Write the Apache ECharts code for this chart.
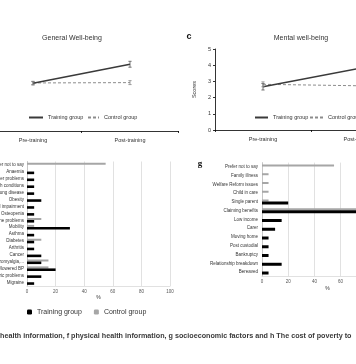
<!DOCTYPE html>
<html>
<head>
<meta charset="utf-8">
<script src="https://cdn.jsdelivr.net/npm/echarts@6/dist/echarts.min.js"></script>
<style>html,body{margin:0;padding:0;background:#fff;}#c{width:356px;height:364px;}</style>
</head>
<body>
<div id="c"></div>
<script>
// ---- data ----
const lineCats = ['Pre-training', 'Post-training'];
const scoreTicks = [0, 1, 2, 3, 4, 5];
// General well-being
const gwTraining = [2.91, 4.07];
const gwTrainingErr = [0.1, 0.18];
const gwControl = [2.93, 2.95];
const gwControlErr = [0.1, 0.12];
// Mental well-being
const mwTraining = [2.67, 3.8];
const mwTrainingErr = [0.2, 0.2];
const mwControl = [2.82, 2.73];
const mwControlErr = [0.15, 0.15];
// f physical health information (%)
const physCats = ['Prefer not to say', 'Anaemia', 'Bladder problems', 'Mental health conditions', 'Lung disease',
  'Obesity', 'Visual impairment', 'Osteopenia', 'Bone problems', 'Mobility', 'Asthma', 'Diabetes', 'Arthritis',
  'Cancer', 'Fibromyalgia,...', 'Raised/lowered BP', 'Gastric problems', 'Migraine'];
const physTraining = [0, 5, 5, 5, 5, 10, 5, 5, 5, 30, 5, 5, 5, 10, 10, 20, 10, 5];
const physControl = [55, 0, 0, 0, 0, 0, 0, 0, 10, 5, 0, 10, 0, 0, 15, 15, 0, 0];
// g socioeconomic factors (%)
const socCats = ['Prefer not to say', 'Family illness', 'Welfare Reform issues', 'Child in care', 'Single parent',
  'Claiming benefits', 'Low income', 'Carer', 'Moving home', 'Post custodial', 'Bankruptcy',
  'Relationship breakdown', 'Bereaved'];
const socTraining = [0, 0, 0, 0, 20, 85, 15, 10, 5, 5, 5, 15, 5];
const socControl = [55, 5, 5, 5, 5, 80, 0, 0, 0, 0, 0, 0, 0];
const pctTicks = [0, 20, 40, 60, 80, 100];

const caption = 'health information, f physical health information, g socioeconomic factors and h The cost of poverty to';

// ---- chart ----
const FONT = '"Liberation Sans", Arial, sans-serif';
const chart = echarts.init(document.getElementById('c'), null, {renderer: 'canvas'});

function errRender(params, api) {
  const x = api.value(0), v = api.value(1), e = api.value(2);
  const t = api.coord([x, v + e]);
  const b = api.coord([x, v - e]);
  const w = 1.6;
  const st = {stroke: api.visual('color'), lineWidth: 0.8};
  return {type: 'group', children: [
    {type: 'line', shape: {x1: t[0], y1: t[1], x2: b[0], y2: b[1]}, style: st},
    {type: 'line', shape: {x1: t[0] - w, y1: t[1], x2: t[0] + w, y2: t[1]}, style: st},
    {type: 'line', shape: {x1: b[0] - w, y1: b[1], x2: b[0] + w, y2: b[1]}, style: st}
  ]};
}
const errData = (vals, errs) => vals.map((v, i) => [i, v, errs[i]]);

const trainLine = {color: '#3a3a3a', width: 1.6};
const ctrlLine = {color: '#8c8c8c', width: 1, type: [3, 2]};

function lineCatAxis(gi) {
  return {
    type: 'category', gridIndex: gi, data: lineCats, boundaryGap: true,
    axisLine: {lineStyle: {color: '#000', width: 0.8}},
    axisTick: {show: true, length: 2, lineStyle: {color: '#000', width: 0.8}},
    axisLabel: {fontSize: 5.5, color: '#333', margin: 6, fontFamily: FONT}
  };
}
function scoreAxis(gi, showName) {
  return {
    type: 'value', gridIndex: gi, min: scoreTicks[0], max: scoreTicks[scoreTicks.length - 1], interval: 1,
    name: showName ? 'Scores' : '', nameLocation: 'middle', nameGap: 13, nameRotate: 90,
    nameTextStyle: {fontSize: 5.5, color: '#333', fontFamily: FONT},
    axisLine: {show: true, lineStyle: {color: '#000', width: 0.8}},
    axisTick: {show: true, length: 2, lineStyle: {color: '#000', width: 0.8}},
    axisLabel: {fontSize: 5.5, color: '#333', margin: 4, fontFamily: FONT},
    splitLine: {show: false}
  };
}
function pctAxis(gi, margin, nameGap) {
  return {
    type: 'value', gridIndex: gi, min: pctTicks[0], max: pctTicks[pctTicks.length - 1], interval: 20,
    name: '%', nameLocation: 'middle', nameGap: nameGap,
    nameTextStyle: {fontSize: 5, color: '#333', fontFamily: FONT},
    axisLine: {show: true, lineStyle: {color: '#d9d9d9', width: 0.8}},
    axisTick: {show: false},
    axisLabel: {fontSize: 4.5, color: '#555', margin: margin, fontFamily: FONT},
    splitLine: {show: true, lineStyle: {color: '#d9d9d9', width: 0.8}}
  };
}
function catYAxis(gi, cats, margin) {
  return {
    type: 'category', gridIndex: gi, data: cats, inverse: true,
    axisLine: {show: true, lineStyle: {color: '#bfbfbf', width: 0.8}},
    axisTick: {show: false},
    axisLabel: {fontSize: 4.5, color: '#333', margin: margin, fontFamily: FONT, interval: 0}
  };
}
function lineLegend(left, names, w) {
  return {left: left, top: 114.5, itemWidth: w, itemHeight: 6, itemGap: 8, padding: 0,
    data: names, itemStyle: {opacity: 0, borderWidth: 0},
    textStyle: {fontSize: 5.5, color: '#333', fontFamily: FONT}, selectedMode: false};
}

const option = {
  animation: false,
  backgroundColor: '#fff',
  textStyle: {fontFamily: FONT},
  grid: [
    {left: -15.5, top: 49, width: 194, height: 82, outerBoundsMode: 'none', containLabel: false},
    {left: 215, top: 49, width: 192, height: 81, outerBoundsMode: 'none', containLabel: false},
    {left: 27, top: 161.5, width: 143, height: 124.5, outerBoundsMode: 'none', containLabel: false},
    {left: 262, top: 162.6, width: 131, height: 113.8, outerBoundsMode: 'none', containLabel: false}
  ],
  xAxis: [lineCatAxis(0), lineCatAxis(1), pctAxis(2, 3, 8), pctAxis(3, 3, 10)],
  yAxis: [scoreAxis(0, false), scoreAxis(1, true), catYAxis(2, physCats, 3), catYAxis(3, socCats, 4)],
  legend: [
    lineLegend(28, ['Training group'], 14),
    lineLegend(87, ['Control group'], 11),
    lineLegend(254, ['Training group'], 13),
    lineLegend(309, ['Control group'], 13),
    {left: 27, top: 308.5, itemWidth: 5, itemHeight: 5, itemGap: 12, padding: 0,
      data: ['Training group ', 'Control group '], formatter: n => n.trim(),
      textStyle: {fontSize: 7, color: '#333', fontFamily: FONT}, selectedMode: false}
  ],
  graphic: [
    {type: 'text', style: {text: 'General Well-being', x: 72, y: 38, align: 'center', verticalAlign: 'middle',
      font: '7px ' + FONT, fill: '#333'}},
    {type: 'text', style: {text: 'Mental well-being', x: 301, y: 38, align: 'center', verticalAlign: 'middle',
      font: '7px ' + FONT, fill: '#333'}},
    {type: 'text', style: {text: 'c', x: 189, y: 37, align: 'center', verticalAlign: 'middle',
      font: 'bold 9px ' + FONT, fill: '#111'}},
    {type: 'text', style: {text: 'g', x: 200, y: 164, align: 'center', verticalAlign: 'middle',
      font: 'bold 9px "Liberation Serif", serif', fill: '#111'}},
    {type: 'text', style: {text: caption, x: 0, y: 336, align: 'left', verticalAlign: 'middle',
      font: 'bold 7.2px ' + FONT, fill: '#3a3a3a'}}
  ],
  series: [
    {type: 'line', name: 'Training group', xAxisIndex: 0, yAxisIndex: 0, data: gwTraining, symbol: 'none',
      lineStyle: trainLine, itemStyle: {color: trainLine.color}, z: 3},
    {type: 'line', name: 'Control group', xAxisIndex: 0, yAxisIndex: 0, data: gwControl, symbol: 'none',
      lineStyle: ctrlLine, itemStyle: {color: ctrlLine.color}, z: 2},
    {type: 'custom', name: 'err1', xAxisIndex: 0, yAxisIndex: 0, data: errData(gwTraining, gwTrainingErr),
      renderItem: errRender, itemStyle: {color: '#555'}, z: 4},
    {type: 'custom', name: 'err2', xAxisIndex: 0, yAxisIndex: 0, data: errData(gwControl, gwControlErr),
      renderItem: errRender, itemStyle: {color: '#888'}, z: 4},
    {type: 'line', name: 'Training group', xAxisIndex: 1, yAxisIndex: 1, data: mwTraining, symbol: 'none',
      lineStyle: trainLine, itemStyle: {color: trainLine.color}, z: 3},
    {type: 'line', name: 'Control group', xAxisIndex: 1, yAxisIndex: 1, data: mwControl, symbol: 'none',
      lineStyle: ctrlLine, itemStyle: {color: ctrlLine.color}, z: 2},
    {type: 'custom', name: 'err3', xAxisIndex: 1, yAxisIndex: 1, data: errData(mwTraining, mwTrainingErr),
      renderItem: errRender, itemStyle: {color: '#555'}, z: 4},
    {type: 'custom', name: 'err4', xAxisIndex: 1, yAxisIndex: 1, data: errData(mwControl, mwControlErr),
      renderItem: errRender, itemStyle: {color: '#888'}, z: 4},
    {type: 'bar', name: 'Control group ', xAxisIndex: 2, yAxisIndex: 2, data: physControl,
      barWidth: 2, barGap: '0%', itemStyle: {color: '#a6a6a6'}},
    {type: 'bar', name: 'Training group ', xAxisIndex: 2, yAxisIndex: 2, data: physTraining,
      barWidth: 2.6, barGap: '0%', itemStyle: {color: '#000'}},
    {type: 'bar', name: 'Control group ', xAxisIndex: 3, yAxisIndex: 3, data: socControl,
      barWidth: 2, barGap: '0%', itemStyle: {color: '#a6a6a6'}},
    {type: 'bar', name: 'Training group ', xAxisIndex: 3, yAxisIndex: 3, data: socTraining,
      barWidth: 3, barGap: '0%', itemStyle: {color: '#000'}}
  ]
};
chart.setOption(option);
</script>
</body>
</html>
